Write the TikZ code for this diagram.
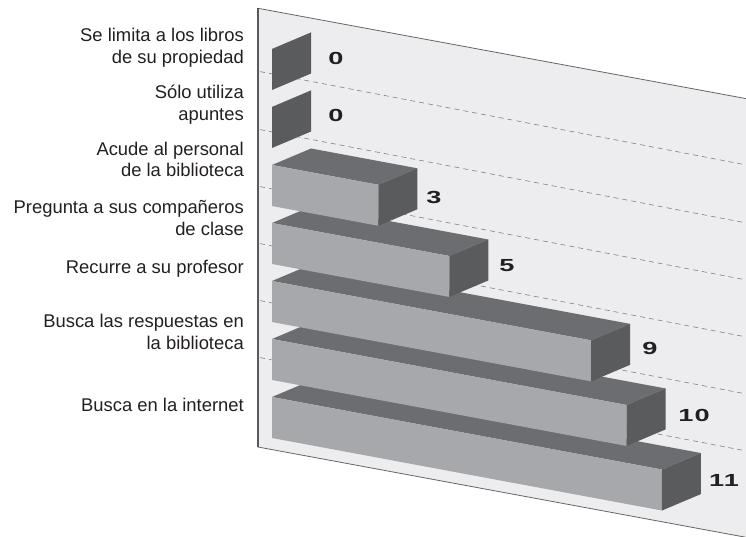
\documentclass[tikz,border=0pt]{standalone}
\usepackage{fontspec}
\setmainfont{Liberation Sans}
\newfontfamily\cifras[FakeStretch=1.55,LetterSpace=6]{Liberation Sans}

\definecolor{panel}{HTML}{EDEDEF}
\definecolor{frente}{HTML}{A7A8AB}
\definecolor{tapa}{HTML}{6C6D70}
\definecolor{lado}{HTML}{5A5B5D}
\definecolor{texto}{HTML}{231F20}

\tikzset{
  etiqueta/.style={anchor=north east, inner sep=0pt, align=right, text=texto,
    font=\fontsize{18.4}{21.7}\selectfont},
  valor/.style={inner sep=0pt, text=texto, font=\cifras\bfseries\fontsize{17.5}{20}\selectfont},
  guia/.style={dash pattern=on 5pt off 4pt, gray, line width=0.6pt}
}

% Barra en 3D: #1 = y del vertice superior izquierdo del frente, #2 = valor
\newcommand{\barra}[2]{%
  \pgfmathsetmacro{\ancho}{35.45*#2}
  \pgfmathsetmacro{\caida}{0.186*\ancho}
  % cara superior
  \fill[tapa] (272,#1) -- ++(\ancho,\caida) -- ++(39,-16.5) -- (311,#1-16.5) -- cycle;
  % frente
  \fill[frente] (272,#1) -- ++(\ancho,\caida) -- ++(0,41) -- (272,#1+41) -- cycle;
  % cara lateral
  \fill[lado] (272+\ancho,#1+\caida) -- ++(39,-16.5) -- ++(0,41) -- ++(-39,16.5) -- cycle;
}

\begin{document}
\begin{tikzpicture}[x=1pt,y=-1pt]
  \useasboundingbox (0,0) rectangle (746,537);

  % Panel del fondo
  \fill[panel] (258,8.3) -- (746,98.6) -- (746,537.3) -- (258,447) -- cycle;
  \draw[gray!80!black, line width=0.8pt] (746,98.6) -- (258,8.3) -- (258,447) -- (746,537.3);
  \draw[black!65, line width=1.2pt] (258,8.3) -- (258,447);

  % Lineas guia
  \draw[guia] (260,71.6) -- (746,164.9);
  \draw[guia] (260,129.6) -- (746,222.9);
  \draw[guia] (260,186.6) -- (746,279.9);
  \draw[guia] (260,243.6) -- (746,336.9);
  \draw[guia] (260,300.6) -- (746,393.9);
  \draw[guia] (260,357.6) -- (746,450.9);

  % Barras (de abajo hacia arriba)
  \barra{397}{11}
  \barra{339}{10}
  \barra{281}{9}
  \barra{223}{5}
  \barra{165}{3}
  \barra{107}{0}
  \barra{49}{0}

  % Valores
  \node[valor] (v1) at (336,58) {0};
  \node[valor] (v2) at (336,115) {0};
  \node[valor] (v3) at (434,197) {3};
  \node[valor] (v4) at (507,266) {5};
  \node[valor] (v5) at (650,348) {9};
  \node[valor] (v6) at (694,415) {10};
  \node[valor] (v7) at (724,480) {11};

  % Categorias
  \node[etiqueta] (c1) at (244,28.3) {Se limita a los libros\\de su propiedad};
  \node[etiqueta] (c2) at (244,85) {Sólo utiliza\\apuntes};
  \node[etiqueta] (c3) at (244,141.7) {Acude al personal\\de la biblioteca};
  \node[etiqueta] (c4) at (244,200) {Pregunta a sus compañeros\\de clase};
  \node[etiqueta] (c5) at (244,260) {Recurre a su profesor};
  \node[etiqueta] (c6) at (244,314) {Busca las respuestas en\\la biblioteca};
  \node[etiqueta] (c7) at (244,398) {Busca en la internet};
\end{tikzpicture}
\end{document}
